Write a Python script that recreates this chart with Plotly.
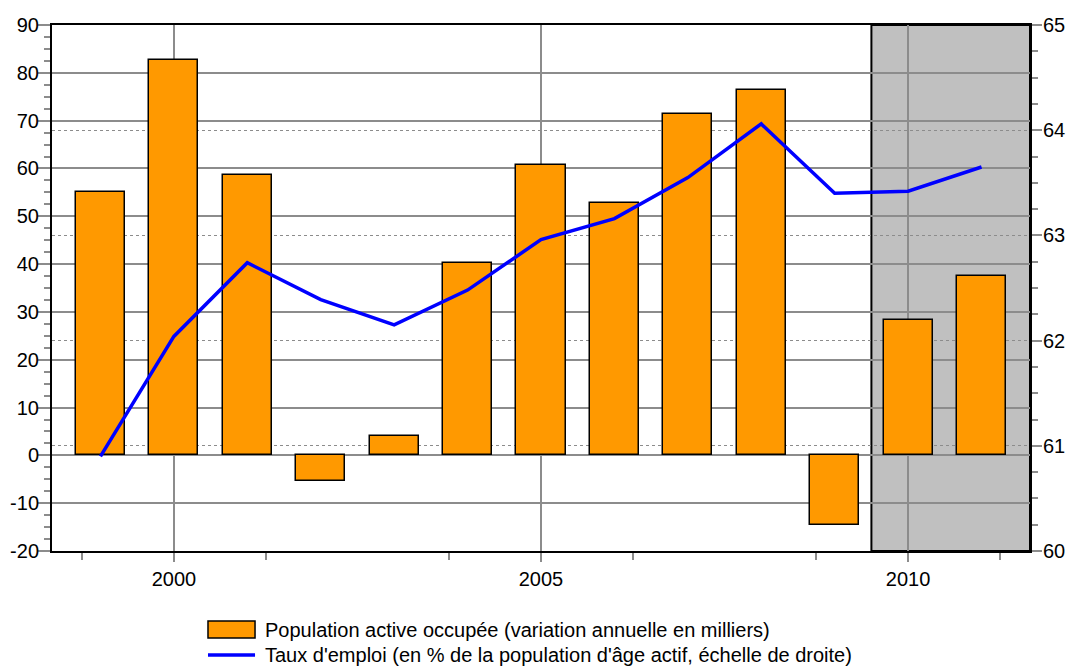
import plotly.graph_objects as go

# Annual series
years = [1999, 2000, 2001, 2002, 2003, 2004, 2005, 2006, 2007, 2008, 2009, 2010, 2011]
emploi_variation = [55.0, 82.7, 58.6, -5.3, 4.1, 40.2, 60.7, 52.8, 71.4, 76.4, -14.6, 28.3, 37.5]
taux_emploi = [60.90, 62.04, 62.74, 62.39, 62.15, 62.48, 62.96, 63.16, 63.55, 64.06, 63.40, 63.42, 63.65]

left_ticks = list(range(-20, 91, 10))
left_labels = [str(v) for v in left_ticks]  # plain hyphen for negatives
right_ticks = [60, 61, 62, 63, 64, 65]
year_ticks = [2000, 2005, 2010]

bar_label = "Population active occupée (variation annuelle en milliers)"
line_label = "Taux d'emploi (en % de la population d'âge actif, échelle de droite)"

FONT = "Liberation Sans, Arial, sans-serif"
GRID = "#8c8c8c"
FS = 20

fig = go.Figure()

fig.add_trace(go.Bar(
    x=years, y=emploi_variation, name=bar_label,
    width=0.67,
    marker=dict(color="#FF9900", line=dict(color="black", width=1.5)),
    showlegend=False,
))

fig.add_trace(go.Scatter(
    x=years, y=taux_emploi, name=line_label, yaxis="y2",
    mode="lines", line=dict(color="#0000FF", width=3.5),
    showlegend=False,
))

# Forecast period shading
fig.add_shape(type="rect", xref="x", yref="paper",
              x0=2009.5, x1=2011.66, y0=0, y1=1,
              fillcolor="#C0C0C0", line=dict(color="black", width=2),
              layer="below")

# Legend drawn as shapes + text
fig.add_shape(type="rect", xref="paper", yref="paper",
              x0=0.1595, x1=0.2076, y0=-0.1654, y1=-0.1331,
              fillcolor="#FF9900", line=dict(color="black", width=1.5))
fig.add_shape(type="line", xref="paper", yref="paper",
              x0=0.1595, x1=0.2076, y0=-0.1977, y1=-0.1977,
              line=dict(color="#0000FF", width=3.5))
fig.add_annotation(text=bar_label, xref="paper", yref="paper",
                   x=0.2157, y=-0.1502, xanchor="left", yanchor="middle",
                   showarrow=False, font=dict(size=FS, color="black", family=FONT))
fig.add_annotation(text=line_label, xref="paper", yref="paper",
                   x=0.2157, y=-0.1977, xanchor="left", yanchor="middle",
                   showarrow=False, font=dict(size=FS, color="black", family=FONT))

fig.update_layout(
    width=1067, height=666,
    margin=dict(l=52, r=37, t=25, b=115),
    paper_bgcolor="white", plot_bgcolor="white",
    font=dict(family=FONT, size=FS, color="black"),
    bargap=0,
    xaxis=dict(
        range=[1998.34, 2011.66], automargin=False,
        tickvals=year_ticks, ticktext=[str(v) for v in year_ticks],
        showgrid=True, gridcolor=GRID, gridwidth=1.5,
        ticks="outside", ticklen=9, tickcolor=GRID, tickwidth=1.5,
        minor=dict(tick0=1998.75, dtick=2.5, ticks="outside", ticklen=7,
                   tickcolor=GRID, tickwidth=1.5, showgrid=False),
        showline=True, linecolor="black", linewidth=2, mirror=True,
        zeroline=False, tickfont=dict(size=FS),
    ),
    yaxis=dict(
        range=[-20, 90], tickvals=left_ticks, ticktext=left_labels, automargin=False,
        showgrid=True, gridcolor=GRID, gridwidth=1.5,
        ticks="outside", ticklen=12, tickcolor=GRID, tickwidth=1.5,
        ticklabelstandoff=-5,
        minor=dict(dtick=2.5, tick0=0, ticks="outside", ticklen=6,
                   tickcolor=GRID, tickwidth=1.5, showgrid=False),
        showline=True, linecolor="black", linewidth=2, mirror=True,
        zeroline=False, tickfont=dict(size=FS),
    ),
    yaxis2=dict(
        range=[60, 65], tickvals=right_ticks, automargin=False,
        overlaying="y", side="right",
        showgrid=True, gridcolor=GRID, gridwidth=1, griddash="dot",
        ticks="outside", ticklen=10, tickcolor=GRID, tickwidth=1.5,
        ticklabelstandoff=-3,
        minor=dict(dtick=0.25, tick0=60, ticks="outside", ticklen=6,
                   tickcolor=GRID, tickwidth=1.5, showgrid=False),
        showline=True, linecolor="black", linewidth=2,
        zeroline=False, tickfont=dict(size=FS),
    ),
)

fig.write_html("out.html")
